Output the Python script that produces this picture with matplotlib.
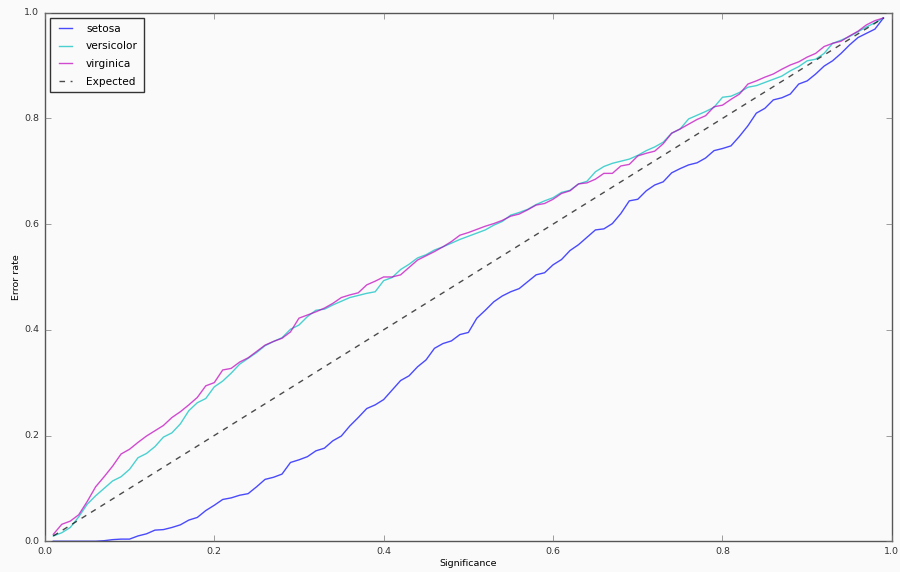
import matplotlib
matplotlib.use("Agg")
import matplotlib.pyplot as plt
import numpy as np

significance = [k / 100 for k in range(1, 100)]

setosa = [0.0, 0.0, 0.0, 0.0, 0.0, 0.0, 0.001, 0.003, 0.004, 0.004,
          0.01, 0.014, 0.021, 0.022, 0.026, 0.031, 0.04, 0.045, 0.058, 0.068,
          0.079, 0.082, 0.087, 0.09, 0.103, 0.117, 0.121, 0.127, 0.149, 0.154,
          0.16, 0.171, 0.176, 0.19, 0.199, 0.218, 0.234, 0.251, 0.258, 0.268,
          0.286, 0.304, 0.313, 0.33, 0.343, 0.365, 0.374, 0.379, 0.391, 0.395,
          0.422, 0.437, 0.453, 0.464, 0.472, 0.478, 0.491, 0.504, 0.508, 0.523,
          0.533, 0.55, 0.561, 0.575, 0.589, 0.591, 0.601, 0.62, 0.644, 0.647,
          0.663, 0.674, 0.68, 0.697, 0.705, 0.712, 0.716, 0.725, 0.739, 0.743,
          0.748, 0.766, 0.786, 0.81, 0.819, 0.835, 0.839, 0.846, 0.865, 0.871,
          0.884, 0.899, 0.909, 0.923, 0.939, 0.953, 0.961, 0.969, 0.99]

versicolor = [0.01, 0.016, 0.026, 0.046, 0.07, 0.086, 0.1, 0.114, 0.122, 0.136,
              0.158, 0.166, 0.179, 0.197, 0.205, 0.222, 0.247, 0.262, 0.27, 0.292,
              0.303, 0.318, 0.335, 0.346, 0.357, 0.37, 0.378, 0.385, 0.401, 0.409,
              0.425, 0.437, 0.439, 0.447, 0.454, 0.461, 0.465, 0.469, 0.472, 0.493,
              0.499, 0.514, 0.524, 0.536, 0.542, 0.551, 0.557, 0.564, 0.571, 0.577,
              0.583, 0.589, 0.598, 0.605, 0.617, 0.622, 0.628, 0.637, 0.644, 0.65,
              0.66, 0.664, 0.676, 0.681, 0.699, 0.709, 0.715, 0.719, 0.723, 0.73,
              0.739, 0.746, 0.755, 0.772, 0.78, 0.799, 0.806, 0.813, 0.821, 0.84,
              0.842, 0.849, 0.859, 0.862, 0.868, 0.874, 0.88, 0.89, 0.898, 0.909,
              0.912, 0.923, 0.942, 0.948, 0.955, 0.964, 0.973, 0.981, 0.99]

virginica = [0.013, 0.032, 0.038, 0.05, 0.075, 0.103, 0.122, 0.142, 0.165, 0.174,
             0.187, 0.199, 0.209, 0.219, 0.234, 0.245, 0.258, 0.272, 0.294, 0.3,
             0.324, 0.327, 0.339, 0.347, 0.359, 0.371, 0.378, 0.384, 0.396, 0.422,
             0.428, 0.434, 0.441, 0.45, 0.461, 0.466, 0.47, 0.485, 0.492, 0.5,
             0.5, 0.504, 0.518, 0.532, 0.54, 0.548, 0.557, 0.567, 0.579, 0.584,
             0.59, 0.596, 0.601, 0.607, 0.615, 0.619, 0.627, 0.636, 0.639, 0.647,
             0.658, 0.663, 0.676, 0.678, 0.685, 0.696, 0.696, 0.71, 0.713, 0.729,
             0.734, 0.738, 0.752, 0.772, 0.78, 0.789, 0.798, 0.805, 0.822, 0.825,
             0.836, 0.846, 0.865, 0.871, 0.878, 0.884, 0.893, 0.901, 0.907, 0.916,
             0.923, 0.936, 0.942, 0.946, 0.956, 0.965, 0.977, 0.985, 0.99]

expected = significance

labels = ["setosa", "versicolor", "virginica", "Expected"]
colors = ["b", "c", "m", "k"]

plt.style.use("classic")
fs = 6.8
plt.rcParams.update({
    "font.family": ["DejaVu Sans"],
    "font.size": fs,
    "xtick.labelsize": fs,
    "ytick.labelsize": fs,
    "legend.fontsize": 7.6,
    "axes.labelsize": fs,
})

fig = plt.figure(figsize=(9, 5.72), dpi=100, facecolor="#fafafa")
ax = fig.add_axes([0.0498, 0.0538, 0.9412, 0.924])
ax.set_facecolor("#fafafa")

for series, lab, col in zip([setosa, versicolor, virginica], labels[:3], colors[:3]):
    ax.plot(significance, series, color=col, alpha=0.7, lw=1.0, label=lab)
ax.plot(significance, expected, color="k", linestyle=(0, (4, 4)), alpha=0.7, lw=1.0,
        label=labels[3])

ax.set_xlim(0, 1)
ax.set_ylim(0, 1)
ax.set_xticks(np.arange(0, 1.01, 0.2))
ax.set_yticks(np.arange(0, 1.01, 0.2))
ax.set_xlabel("Significance", labelpad=2)
ax.set_ylabel("Error rate", labelpad=2)
for sp in ax.spines.values():
    sp.set_color("#555555")
ax.tick_params(colors="#333333", length=4, pad=4)
ax.tick_params(axis="both", which="both", color="#777777")

leg = ax.legend(loc="upper left", frameon=True, fancybox=False, borderaxespad=0.5,
                handlelength=1.8, handletextpad=1.05, labelspacing=0.72,
                borderpad=0.55)
leg.get_frame().set_edgecolor("#333333")
leg.get_frame().set_facecolor("#fafafa")

fig.savefig("out.png", dpi=100, facecolor=fig.get_facecolor())
